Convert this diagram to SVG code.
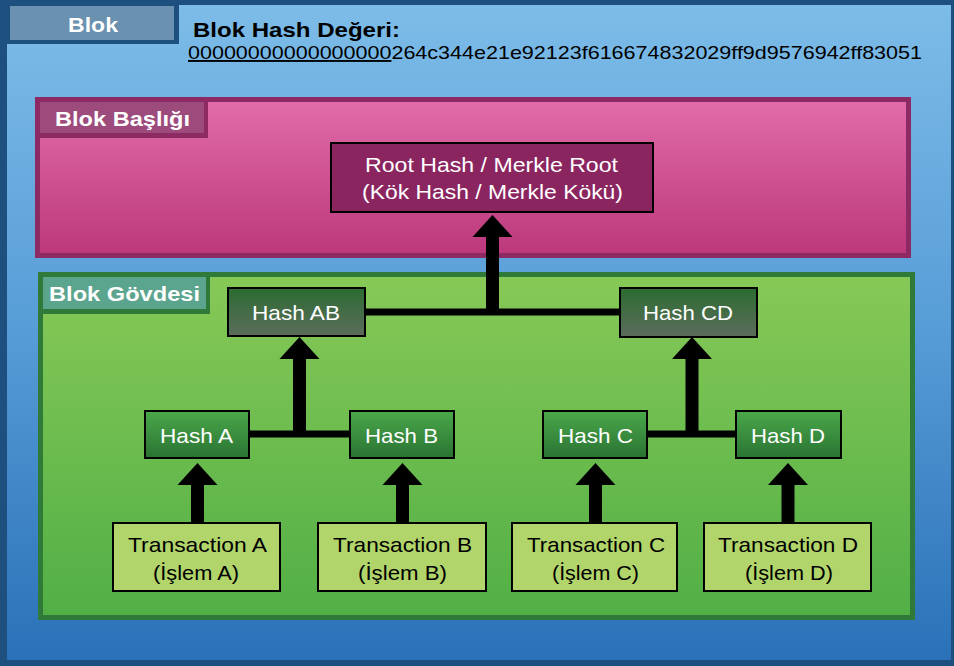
<svg xmlns="http://www.w3.org/2000/svg" width="954" height="666" viewBox="0 0 954 666">
  <defs>
    <linearGradient id="gBlue" x1="0" y1="0" x2="0" y2="1">
      <stop offset="0" stop-color="#7dbce8"/>
      <stop offset="0.5" stop-color="#569cd6"/>
      <stop offset="1" stop-color="#2a71b8"/>
    </linearGradient>
    <linearGradient id="gPink" x1="0" y1="0" x2="0" y2="1">
      <stop offset="0" stop-color="#e26caa"/>
      <stop offset="1" stop-color="#bb387b"/>
    </linearGradient>
    <linearGradient id="gGreen" x1="0" y1="0" x2="0" y2="1">
      <stop offset="0" stop-color="#87c957"/>
      <stop offset="1" stop-color="#51af46"/>
    </linearGradient>
    <linearGradient id="gDark" x1="0" y1="0" x2="0" y2="1">
      <stop offset="0" stop-color="#2c6c31"/>
      <stop offset="1" stop-color="#5c6c5c"/>
    </linearGradient>
    <linearGradient id="gLeaf" x1="0" y1="0" x2="0" y2="1">
      <stop offset="0" stop-color="#4aa84a"/>
      <stop offset="1" stop-color="#2a7333"/>
    </linearGradient>
    <!-- wide triangular head; base sits on the end of the shaft -->
    <marker id="head" viewBox="0 0 22 40" refX="0" refY="20" markerWidth="22" markerHeight="40" markerUnits="userSpaceOnUse" orient="auto" overflow="visible">
      <path d="M0,0 L22,20 L0,40 Z" fill="#000"/>
    </marker>
    <style>
      text { font-family: "Liberation Sans", Arial, sans-serif; }
      .tab { font-weight: bold; font-size: 21px; fill: #fff; }
      .title { font-weight: bold; font-size: 21px; fill: #000; }
      .hash { font-size: 19px; fill: #000; }
      .w { font-size: 21px; fill: #fff; text-anchor: middle; }
      .k { font-size: 21px; fill: #000; text-anchor: middle; }
      .box { stroke: #000; stroke-width: 2; }
      .wire { stroke: #000; stroke-width: 7; fill: none; }
      .shaft { stroke: #000; stroke-width: 13; fill: none; }
    </style>
  </defs>

  <!-- block frame -->
  <rect x="0" y="0" width="954" height="666" fill="#1d4f7f"/>
  <rect x="7" y="5" width="944" height="655" fill="url(#gBlue)"/>

  <g id="blok-tab">
    <rect x="0" y="0" width="179" height="44" fill="#1d4f7f"/>
    <rect x="10" y="6" width="164" height="34" fill="#6a91b0"/>
    <text class="tab" x="93" y="32" text-anchor="middle" textLength="50" lengthAdjust="spacingAndGlyphs">Blok</text>
  </g>

  <g id="blok-hash">
    <text class="title" x="193" y="37" textLength="207" lengthAdjust="spacingAndGlyphs">Blok Hash Değeri:</text>
    <text class="hash" x="188" y="59" textLength="734" lengthAdjust="spacingAndGlyphs"><tspan text-decoration="underline">00000000000000000</tspan>264c344e21e92123f616674832029ff9d9576942ff83051</text>
  </g>

  <!-- header -->
  <g id="blok-basligi">
    <rect x="37.5" y="99.5" width="871" height="156" fill="url(#gPink)" stroke="#8e2a63" stroke-width="5"/>
    <rect x="35" y="97" width="173" height="41" fill="#8e2a63"/>
    <rect x="40" y="102" width="164" height="31" fill="#9c4b7c"/>
    <text class="tab" x="55" y="126" textLength="135" lengthAdjust="spacingAndGlyphs">Blok Başlığı</text>
  </g>

  <!-- body -->
  <g id="blok-govdesi">
    <rect x="40.5" y="274.5" width="872" height="343" fill="url(#gGreen)" stroke="#2f7a39" stroke-width="5"/>
    <rect x="38" y="272" width="172" height="42" fill="#2f7a39"/>
    <rect x="43" y="277" width="163" height="32" fill="#5ba48e"/>
    <text class="tab" x="49" y="301" textLength="151" lengthAdjust="spacingAndGlyphs">Blok Gövdesi</text>
  </g>

  <!-- connectors -->
  <g id="connectors">
    <path class="wire" d="M365,312 H620"/>
    <path class="shaft" d="M492.5,315 V237" marker-end="url(#head)"/>
    <path class="wire" d="M249,434 H350"/>
    <path class="shaft" d="M299.5,437 V359" marker-end="url(#head)"/>
    <path class="wire" d="M647,434 H736"/>
    <path class="shaft" d="M692,437 V359" marker-end="url(#head)"/>
    <path class="shaft" d="M197.5,523 V485" marker-end="url(#head)"/>
    <path class="shaft" d="M402.5,523 V485" marker-end="url(#head)"/>
    <path class="shaft" d="M595.5,523 V485" marker-end="url(#head)"/>
    <path class="shaft" d="M788,523 V485" marker-end="url(#head)"/>
  </g>

  <g id="root-hash">
    <rect class="box" x="331" y="143" width="322" height="69" fill="#8a2560"/>
    <text class="w" x="491.5" y="172" textLength="253" lengthAdjust="spacingAndGlyphs">Root Hash / Merkle Root</text>
    <text class="w" x="492.5" y="199" textLength="261" lengthAdjust="spacingAndGlyphs">(Kök Hash / Merkle Kökü)</text>
  </g>

  <g id="hash-ab">
    <rect class="box" x="228" y="288" width="137" height="48" fill="url(#gDark)"/>
    <text class="w" x="296" y="320" textLength="88" lengthAdjust="spacingAndGlyphs">Hash AB</text>
  </g>
  <g id="hash-cd">
    <rect class="box" x="620" y="288" width="137" height="49" fill="url(#gDark)"/>
    <text class="w" x="688" y="320" textLength="90" lengthAdjust="spacingAndGlyphs">Hash CD</text>
  </g>

  <g id="hash-a">
    <rect class="box" x="145" y="411" width="104" height="47" fill="url(#gLeaf)"/>
    <text class="w" x="196.5" y="443" textLength="73" lengthAdjust="spacingAndGlyphs">Hash A</text>
  </g>
  <g id="hash-b">
    <rect class="box" x="350" y="411" width="104" height="47" fill="url(#gLeaf)"/>
    <text class="w" x="401.5" y="443" textLength="73" lengthAdjust="spacingAndGlyphs">Hash B</text>
  </g>
  <g id="hash-c">
    <rect class="box" x="543" y="411" width="104" height="47" fill="url(#gLeaf)"/>
    <text class="w" x="595.5" y="443" textLength="75" lengthAdjust="spacingAndGlyphs">Hash C</text>
  </g>
  <g id="hash-d">
    <rect class="box" x="736" y="411" width="105" height="47" fill="url(#gLeaf)"/>
    <text class="w" x="788" y="443" textLength="74" lengthAdjust="spacingAndGlyphs">Hash D</text>
  </g>

  <g id="transaction-a">
    <rect class="box" x="113" y="523" width="167" height="68" fill="#b2d56b"/>
    <text class="k" x="197.5" y="552" textLength="139" lengthAdjust="spacingAndGlyphs">Transaction A</text>
    <text class="k" x="196" y="580" textLength="86" lengthAdjust="spacingAndGlyphs">(İşlem A)</text>
  </g>
  <g id="transaction-b">
    <rect class="box" x="318" y="523" width="168" height="68" fill="#b2d56b"/>
    <text class="k" x="402.5" y="552" textLength="139" lengthAdjust="spacingAndGlyphs">Transaction B</text>
    <text class="k" x="402.5" y="580" textLength="89" lengthAdjust="spacingAndGlyphs">(İşlem B)</text>
  </g>
  <g id="transaction-c">
    <rect class="box" x="512" y="523" width="165" height="68" fill="#b2d56b"/>
    <text class="k" x="596" y="552" textLength="138" lengthAdjust="spacingAndGlyphs">Transaction C</text>
    <text class="k" x="595.5" y="580" textLength="87" lengthAdjust="spacingAndGlyphs">(İşlem C)</text>
  </g>
  <g id="transaction-d">
    <rect class="box" x="704" y="523" width="167" height="68" fill="#b2d56b"/>
    <text class="k" x="788" y="552" textLength="140" lengthAdjust="spacingAndGlyphs">Transaction D</text>
    <text class="k" x="789" y="580" textLength="88" lengthAdjust="spacingAndGlyphs">(İşlem D)</text>
  </g>
</svg>
